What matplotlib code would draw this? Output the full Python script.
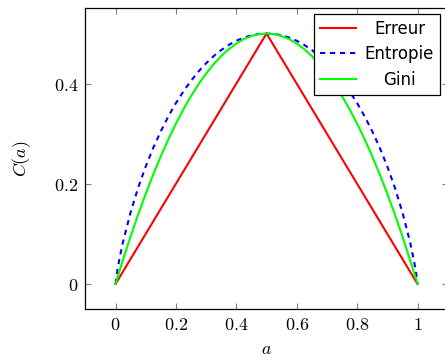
import matplotlib
matplotlib.use("Agg")
import matplotlib.pyplot as plt
import matplotlib.transforms as mtransforms

plt.rcParams['mathtext.fontset'] = 'cm'

a_vals = [0.0, 0.005, 0.01, 0.02, 0.025, 0.05, 0.075, 0.1, 0.125, 0.15, 0.175, 0.2, 0.225,
          0.25, 0.275, 0.3, 0.325, 0.35, 0.375, 0.4, 0.425, 0.45, 0.475, 0.5,
          0.525, 0.55, 0.575, 0.6, 0.625, 0.65, 0.675, 0.7, 0.725, 0.75, 0.775, 0.8,
          0.825, 0.85, 0.875, 0.9, 0.925, 0.95, 0.975, 0.98, 0.99, 0.995, 1.0]
erreur = [0.0, 0.005, 0.01, 0.02, 0.025, 0.05, 0.075, 0.1, 0.125, 0.15, 0.175, 0.2, 0.225,
          0.25, 0.275, 0.3, 0.325, 0.35, 0.375, 0.4, 0.425, 0.45, 0.475, 0.5,
          0.475, 0.45, 0.425, 0.4, 0.375, 0.35, 0.325, 0.3, 0.275, 0.25, 0.225, 0.2,
          0.175, 0.15, 0.125, 0.1, 0.075, 0.05, 0.025, 0.02, 0.01, 0.005, 0.0]
entropie = [0.0, 0.0227, 0.0404, 0.0707, 0.0843, 0.1432, 0.1922, 0.2345, 0.2718, 0.3049,
            0.3345, 0.3610, 0.3846, 0.4056, 0.4243, 0.4406, 0.4549, 0.4670, 0.4772, 0.4855,
            0.4919, 0.4964, 0.4991, 0.5,
            0.4991, 0.4964, 0.4919, 0.4855, 0.4772, 0.4670, 0.4549, 0.4406, 0.4243, 0.4056,
            0.3846, 0.3610, 0.3345, 0.3049, 0.2718, 0.2345, 0.1922, 0.1432, 0.0843, 0.0707,
            0.0404, 0.0227, 0.0]
gini = [0.0, 0.00995, 0.0198, 0.0392, 0.04875, 0.095, 0.13875, 0.18, 0.21875, 0.255,
        0.28875, 0.32, 0.34875, 0.375, 0.39875, 0.42, 0.43875, 0.455, 0.46875, 0.48,
        0.48875, 0.495, 0.49875, 0.5,
        0.49875, 0.495, 0.48875, 0.48, 0.46875, 0.455, 0.43875, 0.42, 0.39875, 0.375,
        0.34875, 0.32, 0.28875, 0.255, 0.21875, 0.18, 0.13875, 0.095, 0.04875, 0.0392,
        0.0198, 0.00995, 0.0]
labels = ["Erreur", "Entropie", "Gini"]
xticks = [0, 0.2, 0.4, 0.6, 0.8, 1]
yticks = [0, 0.2, 0.4]

fig = plt.figure(figsize=(4.45, 3.54), dpi=100)
ax = fig.add_axes([0.1917, 0.1271, 0.8144, 0.849])

ax.plot(a_vals, erreur, color='#ff0000', lw=1.5, label=labels[0])
ax.plot(a_vals, entropie, color='#0000ff', lw=1.5, dashes=(2.5, 2.3), label=labels[1])
ax.plot(a_vals, gini, color='#00ff00', lw=1.5, label=labels[2])

ax.set_xlim(-0.1, 1.1)
ax.set_ylim(-0.05, 0.55)
ax.set_xticks(xticks)
ax.set_xticklabels([f'${t:g}$' for t in xticks], fontsize=13)
ax.set_yticks(yticks)
ax.set_yticklabels([f'${t:g}$' for t in yticks], fontsize=13)
ax.tick_params(direction='in', length=4.5, width=0.8, color='#808080',
               top=True, right=True, pad=5)
for s in ax.spines.values():
    s.set_linewidth(0.9)

ax.set_xlabel('$a$', fontsize=13, labelpad=4)
ax.set_ylabel('$C(a)$', fontsize=13, labelpad=15)

leg = fig.legend(loc='upper right', bbox_to_anchor=(440/445, 1 - 14/354),
                 borderaxespad=0, fancybox=False, framealpha=1, edgecolor='black',
                 handlelength=2.2, handletextpad=0.5,
                 borderpad=0.35, labelspacing=0.45, prop={'family': 'DejaVu Sans', 'size': 12})
leg.get_frame().set_linewidth(0.9)

fig.canvas.draw()
r = fig.canvas.get_renderer()
texts = leg.get_texts()
widths = [t.get_window_extent(r).width for t in texts]
W = max(widths)
for t, w in zip(texts, widths):
    dx = (W - w) / 2
    t.set_transform(t.get_transform() + mtransforms.Affine2D().translate(dx, 0))

fig.savefig('out.png', dpi=100)
